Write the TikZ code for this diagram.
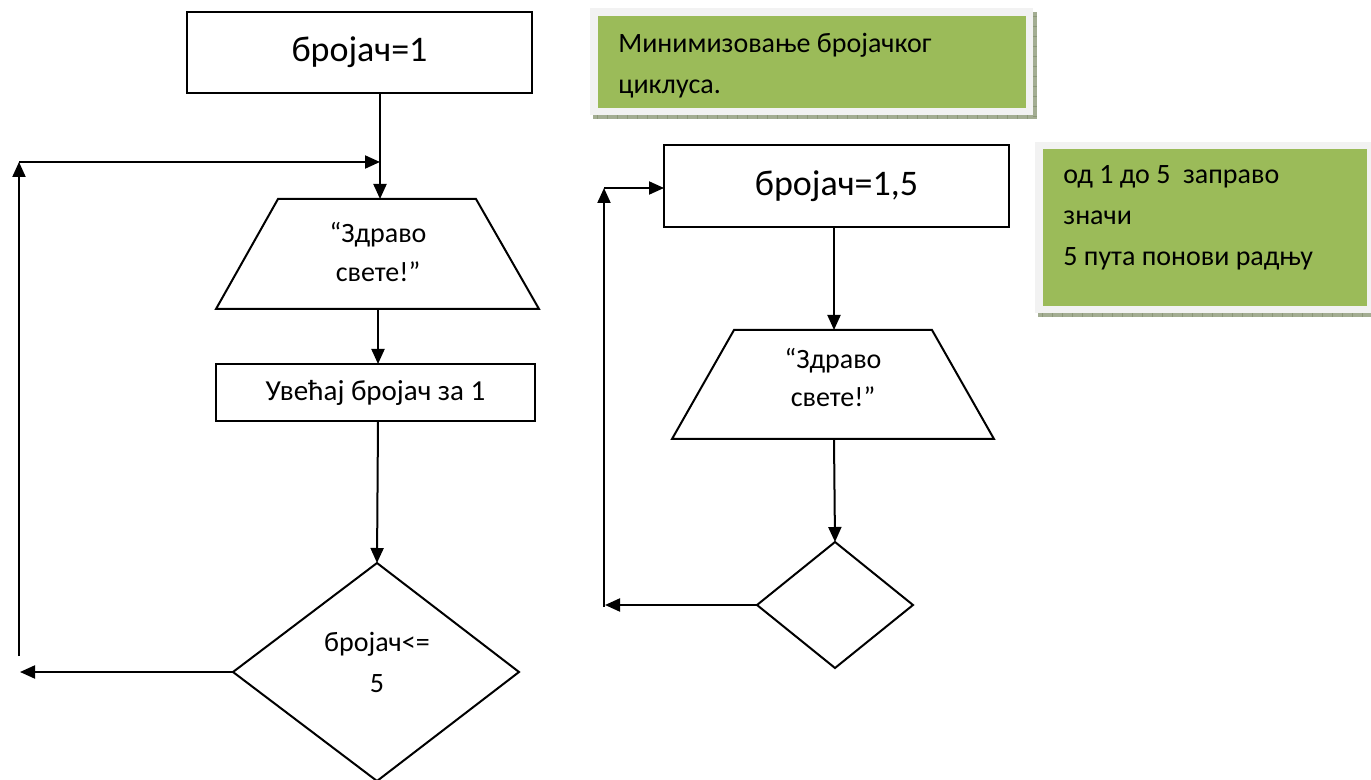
\documentclass[tikz,border=0pt]{standalone}
\usepackage{fontspec}
\setmainfont{Carlito}
\usetikzlibrary{arrows.meta}
\definecolor{notegreen}{HTML}{9BBB59}
\definecolor{noteframe}{HTML}{F2F2F2}
\definecolor{noteshade}{HTML}{A3AD92}
\definecolor{noteshadedark}{HTML}{8C9878}
\begin{document}
\begin{tikzpicture}[x=0.5pt,y=-0.5pt,
  flow/.style={draw=black, line width=1pt, inner sep=0pt},
  conn/.style={line width=1pt, -{Triangle[length=7.5pt,width=6.5pt]}},
  plain/.style={line width=1pt},
  bigtxt/.style={font=\fontsize{18}{22}\selectfont},
  txt/.style={font=\fontsize{14}{19.5}\selectfont, align=center, inner sep=0pt},
  note/.style={font=\fontsize{14}{20.5}\selectfont, align=left, anchor=north west, inner sep=0pt},
]
\useasboundingbox (0,0) rectangle (1371,780);

% ---------- left flowchart ----------
\node[flow, minimum width=172.5pt, minimum height=40.5pt, bigtxt] (b1) at (359.5,52.5) {бројач=1};

\coordinate (t1tl) at (278,199); \coordinate (t1tr) at (476,199);
\coordinate (t1br) at (539,309); \coordinate (t1bl) at (216,309);
\draw[plain] (t1tl) -- (t1tr) -- (t1br) -- (t1bl) -- cycle;
\node[txt] (t1) at (378,252) {“Здраво\\свете!”};
\coordinate (t1top) at (380,199);
\coordinate (t1bot) at (378,309);

\node[flow, minimum width=159.5pt, minimum height=28.5pt, txt, font=\fontsize{14.5}{19.5}\selectfont] (b2) at (375.5,392.5) {Увећај бројач за 1};

\coordinate (d1t) at (377,563); \coordinate (d1l) at (233,672);
\coordinate (d1r) at (519,672); \coordinate (d1b) at (377,781);
\draw[plain] (d1t) -- (d1r) -- (d1b) -- (d1l) -- cycle;
\node[txt, font=\fontsize{14}{20.5}\selectfont] (d1) at (377,662.5) {бројач<=\\5};

\coordinate (b1out) at (380,93);
\coordinate (b2in) at (378,364);
\coordinate (b2out) at (378,421);
\coordinate (l1end) at (20,672);
\coordinate (l1low) at (19,656);
\coordinate (l1up) at (19,162);
\coordinate (l1join) at (380,162);

\draw[conn] (b1out) -- (t1top);
\draw[conn] (t1bot) -- (b2in);
\draw[conn] (b2out) -- (d1t);
\draw[conn] (d1l) -- (l1end);
\draw[conn] (l1low) -- (l1up);
\draw[conn] (l1up) -- (l1join);

% ---------- right flowchart ----------
\node[flow, minimum width=172.5pt, minimum height=41pt, bigtxt] (b3) at (836.5,186) {бројач=1,5};

\coordinate (t2tl) at (734,330); \coordinate (t2tr) at (932,330);
\coordinate (t2br) at (994,439); \coordinate (t2bl) at (672,439);
\draw[plain] (t2tl) -- (t2tr) -- (t2br) -- (t2bl) -- cycle;
\node[txt] (t2) at (833,377.5) {“Здраво\\свете!”};
\coordinate (t2top) at (834,330);
\coordinate (t2bot) at (834,439);

\coordinate (d2t) at (835,542); \coordinate (d2l) at (757,605);
\coordinate (d2r) at (913,605); \coordinate (d2b) at (835,668);
\draw[plain] (d2t) -- (d2r) -- (d2b) -- (d2l) -- cycle;

\coordinate (b3out) at (834,227);
\coordinate (l2end) at (605,605);
\coordinate (l2low) at (604,607);
\coordinate (l2up) at (604,188);
\coordinate (l2join) at (664,188);

\draw[conn] (b3out) -- (t2top);
\draw[conn] (t2bot) -- (d2t);
\draw[conn] (d2l) -- (l2end);
\draw[conn] (l2low) -- (l2up);
\draw[conn] (l2up) -- (l2join);

% ---------- notes (with hatched drop shadow) ----------
\fill[noteshade] (1033,12) rectangle (1037,119);
\fill[noteshade] (593,115) rectangle (1037,119);
\foreach \x in {597,607,...,1033} \draw[noteshadedark, line width=0.4pt] (\x,115) -- (\x,119);
\foreach \y in {16,26,...,116} \draw[noteshadedark, line width=0.4pt] (1033,\y) -- (1037,\y);
\fill[noteframe] (590,8) rectangle (1033,115);
\fill[notegreen] (598,16) rectangle (1026,108);
\node[note] (n1) at (618,33) {Минимизовање бројачког\\циклуса.};

\fill[noteshade] (1038,313) rectangle (1371,317);
\foreach \x in {1042,1052,...,1371} \draw[noteshadedark, line width=0.4pt] (\x,313) -- (\x,317);
\fill[noteframe] (1035,142) rectangle (1371,313);
\fill[notegreen] (1043,149) rectangle (1367,306);
\node[note] (n2) at (1063,165) {од 1 до 5\ \ заправо\\значи\\5 пута понови радњу};
\end{tikzpicture}
\end{document}
